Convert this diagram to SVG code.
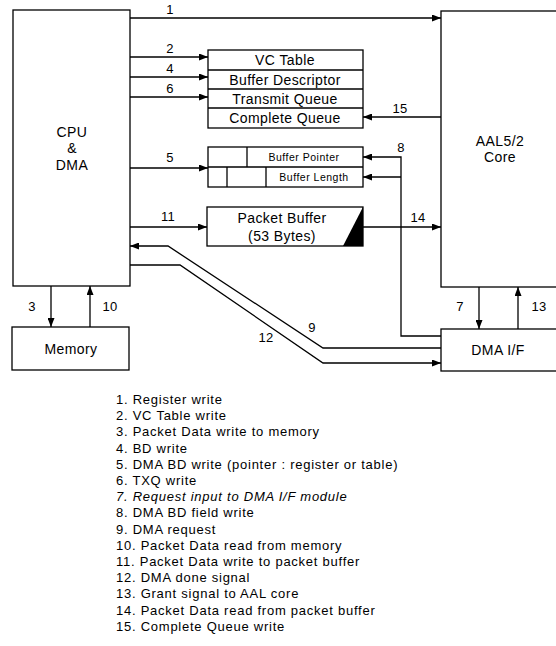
<svg xmlns="http://www.w3.org/2000/svg" width="556" height="646" viewBox="0 0 556 646">
<defs>
<marker id="ah" viewBox="0 0 9 7" refX="9" refY="3.5" markerWidth="9" markerHeight="7" markerUnits="userSpaceOnUse" orient="auto">
<path d="M0,0 L9,3.5 L0,7 z" fill="#000"/>
</marker>
</defs>
<style>
.box{fill:#fff;stroke:#000;stroke-width:1.3}
.ln{fill:none;stroke:#000;stroke-width:1.3}
.c{stroke:#000;stroke-width:1.3;fill:none}
.t{font-family:"Liberation Sans",Arial,sans-serif;font-size:14px;fill:#000;text-anchor:middle;letter-spacing:0.4px}
.s{font-family:"Liberation Sans",Arial,sans-serif;font-size:10.5px;fill:#000;text-anchor:middle;letter-spacing:0.5px}
.n{font-family:"Liberation Sans",Arial,sans-serif;font-size:13px;fill:#000;text-anchor:middle;letter-spacing:0.3px}
.l{font-family:"Liberation Sans",Arial,sans-serif;font-size:13px;fill:#000;letter-spacing:0.75px}
</style>
<rect width="556" height="646" fill="#fff"/>

<g id="cpu">
<rect class="box" x="13" y="10" width="117" height="276"/>
<text class="t" x="72" y="137">CPU</text>
<text class="t" x="72" y="153">&amp;</text>
<text class="t" x="72" y="170">DMA</text>
</g>

<g id="aal">
<rect class="box" x="441" y="11" width="130" height="276"/>
<text class="t" x="500" y="146">AAL5/2</text>
<text class="t" x="500" y="162">Core</text>
</g>

<g id="table">
<rect class="box" x="208" y="50" width="155" height="78"/>
<line class="ln" x1="208" y1="70" x2="363" y2="70"/>
<line class="ln" x1="208" y1="89" x2="363" y2="89"/>
<line class="ln" x1="208" y1="108" x2="363" y2="108"/>
<text class="t" x="285" y="65">VC Table</text>
<text class="t" x="285" y="84.5">Buffer Descriptor</text>
<text class="t" x="285" y="103.5">Transmit Queue</text>
<text class="t" x="285" y="123">Complete Queue</text>
</g>

<g id="bd">
<rect class="box" x="208" y="147" width="155" height="40"/>
<line class="ln" x1="208" y1="167" x2="363" y2="167"/>
<line class="ln" x1="247" y1="147" x2="247" y2="167"/>
<line class="ln" x1="227" y1="167" x2="227" y2="187"/>
<line class="ln" x1="266" y1="167" x2="266" y2="187"/>
<text class="s" x="304" y="160.5">Buffer Pointer</text>
<text class="s" x="314" y="181">Buffer Length</text>
</g>

<g id="pbuf">
<rect class="box" x="207" y="207" width="156" height="39"/>
<polygon points="363,207 363,246 343,246" fill="#000"/>
<text class="t" x="282" y="223">Packet Buffer</text>
<text class="t" x="282" y="241">(53 Bytes)</text>
</g>

<g id="memory">
<rect class="box" x="12" y="327" width="117" height="43"/>
<text class="t" x="71" y="354">Memory</text>
</g>

<g id="dmaif">
<rect class="box" x="441" y="329" width="130" height="42"/>
<text class="t" x="498" y="355">DMA I/F</text>
</g>

<g id="connectors">
<line class="c" x1="130" y1="18" x2="441" y2="18" marker-end="url(#ah)"/>
<line class="c" x1="130" y1="57" x2="208" y2="57" marker-end="url(#ah)"/>
<line class="c" x1="130" y1="77" x2="208" y2="77" marker-end="url(#ah)"/>
<line class="c" x1="130" y1="97" x2="208" y2="97" marker-end="url(#ah)"/>
<line class="c" x1="441" y1="117" x2="363" y2="117" marker-end="url(#ah)"/>
<line class="c" x1="130" y1="168" x2="208" y2="168" marker-end="url(#ah)"/>
<path class="c" d="M441,336 H401 V157 H363" marker-end="url(#ah)"/>
<line class="c" x1="401" y1="177" x2="363" y2="177" marker-end="url(#ah)"/>
<line class="c" x1="130" y1="227" x2="207" y2="227" marker-end="url(#ah)"/>
<line class="c" x1="363" y1="227" x2="441" y2="227" marker-end="url(#ah)"/>
<line class="c" x1="51" y1="286" x2="51" y2="327" marker-end="url(#ah)"/>
<line class="c" x1="90" y1="327" x2="90" y2="286" marker-end="url(#ah)"/>
<line class="c" x1="479" y1="287" x2="479" y2="329" marker-end="url(#ah)"/>
<line class="c" x1="518" y1="329" x2="518" y2="287" marker-end="url(#ah)"/>
<path class="c" d="M441,348 H323 L168,246 H130" marker-end="url(#ah)"/>
<path class="c" d="M130,265 H180 L323,363 H441" marker-end="url(#ah)"/>
<text class="n" x="170" y="14">1</text>
<text class="n" x="170" y="53">2</text>
<text class="n" x="170" y="73">4</text>
<text class="n" x="170" y="93">6</text>
<text class="n" x="170" y="162">5</text>
<text class="n" x="400" y="113">15</text>
<text class="n" x="401" y="152">8</text>
<text class="n" x="168" y="221">11</text>
<text class="n" x="418" y="222">14</text>
<text class="n" x="32" y="311">3</text>
<text class="n" x="110" y="311">10</text>
<text class="n" x="460" y="311">7</text>
<text class="n" x="539" y="311">13</text>
<text class="n" x="312" y="332">9</text>
<text class="n" x="266" y="342">12</text>
</g>

<g id="legend">
<text class="l" x="116" y="404">1. Register write</text>
<text class="l" x="116" y="420.2">2. VC Table write</text>
<text class="l" x="116" y="436.4">3. Packet Data write to memory</text>
<text class="l" x="116" y="452.6">4. BD write</text>
<text class="l" x="116" y="468.8">5. DMA BD write (pointer : register or table)</text>
<text class="l" x="116" y="485">6. TXQ write</text>
<text class="l" x="116" y="501.2" font-style="italic">7. Request input to DMA I/F module</text>
<text class="l" x="116" y="517.4">8. DMA BD field write</text>
<text class="l" x="116" y="533.6">9. DMA request</text>
<text class="l" x="116" y="549.8">10. Packet Data read from memory</text>
<text class="l" x="116" y="566">11. Packet Data write to packet buffer</text>
<text class="l" x="116" y="582.2">12. DMA done signal</text>
<text class="l" x="116" y="598.4">13. Grant signal to AAL core</text>
<text class="l" x="116" y="614.6">14. Packet Data read from packet buffer</text>
<text class="l" x="116" y="630.8">15. Complete Queue write</text>
</g>
</svg>
